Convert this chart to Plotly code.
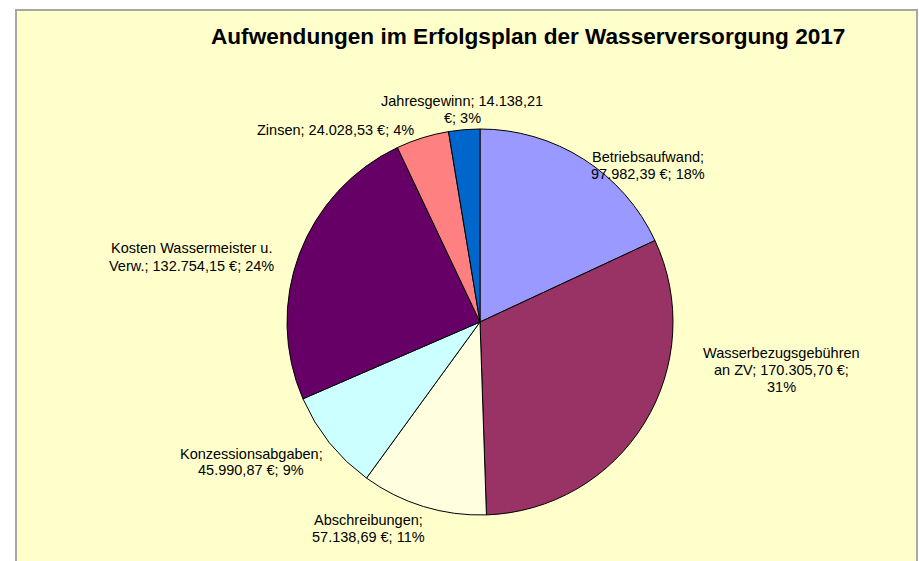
import plotly.graph_objects as go

# ---- data ----
categories = ["Betriebsaufwand", "Wasserbezugsgebühren an ZV", "Abschreibungen",
              "Konzessionsabgaben", "Kosten Wassermeister u. Verw.", "Zinsen", "Jahresgewinn"]
values = [97982.39, 170305.70, 57138.69, 45990.87, 132754.15, 24028.53, 14138.21]
percent_labels = ["18%", "31%", "11%", "9%", "24%", "4%", "3%"]
colors = ["#9999FF", "#993366", "#FFFFE0", "#CCFFFF", "#660066", "#FF8080", "#0066CC"]

W, H = 919, 561


def de_fmt(v):
    s = f"{v:,.2f}"
    return s.replace(",", "X").replace(".", ",").replace("X", ".")


label_lines = [
    ["Betriebsaufwand;", f"{de_fmt(values[0])} €; {percent_labels[0]}"],
    ["Wasserbezugsgebühren", f"an ZV; {de_fmt(values[1])} €;", percent_labels[1]],
    ["Abschreibungen;", f"{de_fmt(values[2])} €; {percent_labels[2]}"],
    ["Konzessionsabgaben;", f"{de_fmt(values[3])} €; {percent_labels[3]}"],
    ["Kosten Wassermeister u.", f"Verw.; {de_fmt(values[4])} €; {percent_labels[4]}"],
    [f"Zinsen; {de_fmt(values[5])} €; {percent_labels[5]}"],
    [f"Jahresgewinn; {de_fmt(values[6])}", f"€; {percent_labels[6]}"],
]
# label centre positions in screen pixels (layout)
label_pos = [(648, 165), (781, 370), (368, 528), (251, 462), (191, 257), (335, 130), (462, 110)]
LINE_H = 17

# pie geometry (screen pixels)
cx, cy, r = 480, 322, 193


def px_x(x):
    return x / W


def px_y(y):
    return 1 - y / H


FONT = "Liberation Sans, Arial, sans-serif"

fig = go.Figure(go.Pie(
    labels=categories,
    values=values,
    sort=False,
    direction="clockwise",
    rotation=0,
    marker=dict(colors=colors, line=dict(color="black", width=1)),
    textinfo="none",
    hoverinfo="label+value+percent",
    showlegend=False,
    domain=dict(x=[px_x(cx - r), px_x(cx + r)], y=[px_y(cy + r), px_y(cy - r)]),
))

annotations = []
for lines, (px, py) in zip(label_lines, label_pos):
    n = len(lines)
    for i, line in enumerate(lines):
        ly = py + (i - (n - 1) / 2) * LINE_H
        annotations.append(dict(
            text=line, x=px_x(px), y=px_y(ly), xref="paper", yref="paper",
            xanchor="center", yanchor="middle", showarrow=False, align="center",
            font=dict(family=FONT, size=14.5, color="black"),
        ))
annotations.append(dict(
    text="<b>Aufwendungen im Erfolgsplan der Wasserversorgung 2017</b>",
    x=px_x(528), y=px_y(37), xref="paper", yref="paper",
    xanchor="center", yanchor="middle", showarrow=False,
    font=dict(family=FONT, size=22.6, color="black"),
))

fig.update_layout(
    width=W, height=H,
    margin=dict(l=0, r=0, t=0, b=0),
    paper_bgcolor="white",
    plot_bgcolor="white",
    annotations=annotations,
    shapes=[dict(
        type="rect", xref="paper", yref="paper",
        x0=px_x(16), x1=px_x(917), y0=-0.02, y1=px_y(10),
        fillcolor="#FFFFCC", line=dict(color="#A8A8A0", width=2), layer="below",
    )],
)

fig.write_html(
    "out.html",
    config={"displayModeBar": False},
    post_script="document.body.style.margin='0';document.body.style.overflow='hidden';",
)
